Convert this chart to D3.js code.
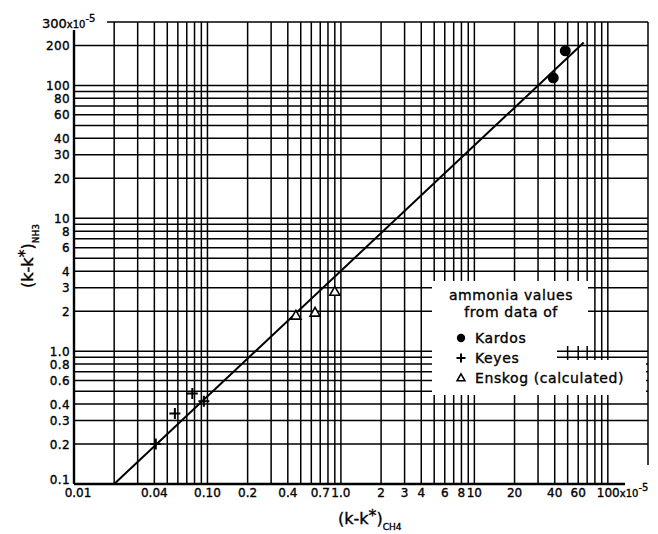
<!DOCTYPE html>
<html>
<head>
<meta charset="utf-8">
<script src="https://cdn.jsdelivr.net/npm/d3@7"></script>
<style>
  body { margin: 0; background: #fff; }
  svg text { font-family: "DejaVu Sans", sans-serif; fill: #000; stroke: #000; stroke-width: 0.35; }
</style>
</head>
<body>
<svg id="chart" width="658" height="534"></svg>
<script>
/* Data (values in units of 10^-5) */

// fitted line endpoints [ (k-k*)CH4, (k-k*)NH3 ]
var fitLine = [[0.02, 0.1], [66, 210]];

var kardosPoints = [[39, 114], [48, 182]];
var keyesPoints = [[0.041, 0.2], [0.057, 0.34], [0.077, 0.48], [0.094, 0.42]];
var enskogPoints = [[0.46, 1.85], [0.64, 1.95], [0.90, 2.8]];

var xTickValues = [0.01, 0.04, 0.1, 0.2, 0.4, 0.7, 1, 2, 3, 4, 6, 8, 10, 20, 40, 60];
var xTickLabels = ["0.01", "0.04", "0.10", "0.2", "0.4", "0.7", "1.0", "2", "3", "4", "6", "8", "10", "20", "40", "60"];
var yTickValues = [0.1, 0.2, 0.3, 0.4, 0.6, 0.8, 1, 2, 3, 4, 6, 8, 10, 20, 30, 40, 60, 80, 100, 200];
var yTickLabels = ["0.1", "0.2", "0.3", "0.4", "0.6", "0.8", "1.0", "2", "3", "4", "6", "8", "10", "20", "30", "40", "60", "80", "100", "200"];

var legendTitle = ["ammonia values", "from data of"];
var legendNames = ["Kardos", "Keyes", "Enskog (calculated)"];

/* Scales */

var svg = d3.select("#chart");
// grid runs one line past the last labelled decade (to 200)
var x = d3.scaleLog().domain([0.01, 200]).range([74, 648]);
var y = d3.scaleLog().domain([0.1, 300]).range([484, 22]);

/* Grid */

var grid = svg.append("g").attr("stroke", "#000").attr("fill", "none");

grid.selectAll("line.v").data(x.ticks()).enter().append("line")
	.attr("x1", function (d) { return x(d); })
	.attr("x2", function (d) { return x(d); })
	// left axis starts below the corner label, the 200 line stops above the unit label
	.attr("y1", function (d) { return d === 0.01 ? 30 : y(300); })
	.attr("y2", function (d) { return d === 200 ? 465 : y(0.1); })
	.attr("stroke-width", function (d) { return d === 0.01 ? 2.4 : 1.5; });

grid.selectAll("line.h").data(y.ticks()).enter().append("line")
	.attr("y1", function (d) { return y(d); })
	.attr("y2", function (d) { return y(d); })
	.attr("x1", function (d) { return d === 300 ? 107 : x(0.01); })
	.attr("x2", function (d) { return d === 0.1 ? 625 : x(200); })
	.attr("stroke-width", function (d) { return d === 0.1 ? 2.4 : 1.5; });

/* Tick labels */

svg.append("g").selectAll("text").data(xTickValues).enter().append("text")
	.attr("x", function (d) { return d === 0.01 ? x(d) + 4 : x(d); })
	.attr("y", 497)
	.attr("text-anchor", "middle")
	.attr("font-size", 12)
	.text(function (d, i) { return xTickLabels[i]; });

svg.append("g").selectAll("text").data(yTickValues).enter().append("text")
	.attr("x", 70)
	.attr("y", function (d) { return d === 0.1 ? y(d) : y(d) + 4.5; })
	.attr("text-anchor", "end")
	.attr("font-size", 12)
	.attr("letter-spacing", 0.4)
	.text(function (d, i) { return yTickLabels[i]; });

// the end labels carry the x10^-5 unit
var topLabel = svg.append("text").attr("x", 42).attr("y", y(300) + 6).attr("font-size", 13);
topLabel.append("tspan").text("300");
topLabel.append("tspan").attr("font-size", 10).text("x10");
topLabel.append("tspan").attr("font-size", 10).attr("dy", -6).text("-5");

var rightLabel = svg.append("text").attr("x", x(100) - 11).attr("y", 497).attr("font-size", 12);
rightLabel.append("tspan").text("100");
rightLabel.append("tspan").attr("font-size", 10).text("x10");
rightLabel.append("tspan").attr("font-size", 10).attr("dy", -6).text("-5");

/* Axis titles */

var xTitle = svg.append("text").attr("x", 338).attr("y", 524).attr("font-size", 16);
xTitle.append("tspan").text("(k-k");
xTitle.append("tspan").attr("dy", -3).text("*");
xTitle.append("tspan").attr("dy", 3).text(")");
xTitle.append("tspan").attr("font-size", 9).attr("dy", 6).text("CH4");

var yTitle = svg.append("text")
	.attr("transform", "translate(33,288) rotate(-90)")
	.attr("font-size", 16);
yTitle.append("tspan").text("(k-k");
yTitle.append("tspan").attr("dy", -3).text("*");
yTitle.append("tspan").attr("dy", 3).text(")");
yTitle.append("tspan").attr("font-size", 9).attr("dy", 6).text("NH3");

/* Fit line and data points */

svg.append("path")
	.datum(fitLine)
	.attr("fill", "none").attr("stroke", "#000").attr("stroke-width", 2)
	.attr("d", d3.line().x(function (d) { return x(d[0]); }).y(function (d) { return y(d[1]); }));

svg.append("g").selectAll("circle").data(kardosPoints).enter().append("circle")
	.attr("cx", function (d) { return x(d[0]); })
	.attr("cy", function (d) { return y(d[1]); })
	.attr("r", 5.5)
	.attr("fill", "#000");

function plusPath(size) {
	var h = size / 2;
	return "M" + (-h) + ",0H" + h + "M0," + (-h) + "V" + h;
}
svg.append("g").selectAll("path").data(keyesPoints).enter().append("path")
	.attr("transform", function (d) { return "translate(" + x(d[0]) + "," + y(d[1]) + ")"; })
	.attr("d", plusPath(11))
	.attr("stroke", "#000").attr("stroke-width", 2);

function trianglePath(size) {
	var h = size * 0.87;
	return "M0," + (-h * 0.6) + "L" + (size / 2) + "," + (h * 0.4) + "L" + (-size / 2) + "," + (h * 0.4) + "Z";
}
svg.append("g").selectAll("path").data(enskogPoints).enter().append("path")
	.attr("transform", function (d) { return "translate(" + x(d[0]) + "," + y(d[1]) + ")"; })
	.attr("d", trianglePath(10))
	.attr("fill", "#fff").attr("stroke", "#000").attr("stroke-width", 1.6);

/* Legend */

// white patch over the grid, stepped where the grid shows through
svg.append("path")
	.attr("d", "M432,281H588V346H557V360H646V395H432Z")
	.attr("fill", "#fff");

var legend = svg.append("g").attr("font-size", 14).attr("letter-spacing", 0.6);
legend.selectAll("text.title").data(legendTitle).enter().append("text")
	.attr("x", 511)
	.attr("y", function (d, i) { return 300 + i * 17; })
	.attr("text-anchor", "middle")
	.text(function (d) { return d; });

legend.selectAll("text.name").data(legendNames).enter().append("text")
	.attr("x", 475)
	.attr("y", function (d, i) { return 343 + i * 20; })
	.text(function (d) { return d; });

legend.append("circle").attr("cx", 461).attr("cy", 338).attr("r", 4.2).attr("fill", "#000");
legend.append("path").attr("transform", "translate(461,358)").attr("d", plusPath(9))
	.attr("stroke", "#000").attr("stroke-width", 2);
legend.append("path").attr("transform", "translate(461,378)").attr("d", trianglePath(8))
	.attr("fill", "none").attr("stroke", "#000").attr("stroke-width", 1.5);
</script>
</body>
</html>
